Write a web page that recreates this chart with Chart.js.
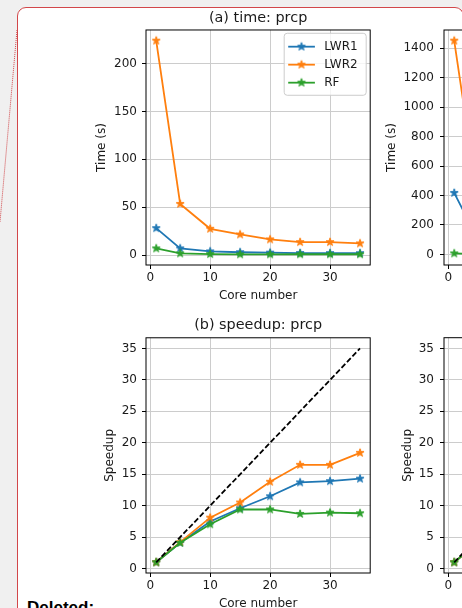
<!DOCTYPE html>
<html>
<head>
<meta charset="utf-8">
<script src="https://cdn.jsdelivr.net/npm/chart.js@4.4.1/dist/chart.umd.min.js"></script>
<style>
  html, body { margin: 0; width: 462px; height: 608px; overflow: hidden; background: #f0f0f0; }
  .frame { position: absolute; left: 17px; top: 7px; width: 447px; height: 700px; box-sizing: border-box;
           border: 1px solid #d2474a; border-radius: 9px; background: #fff; }
  .link { position: absolute; left: 0; top: 0; }
  .deleted { position: absolute; left: 27px; top: 599px; font: bold 17px "Liberation Sans", sans-serif; line-height: 1; color: #000; }
  canvas { position: absolute; }
</style>
</head>
<body>
<div class="frame"></div>
<svg class="link" width="30" height="240"><line x1="17" y1="30" x2="0" y2="222" stroke="#d2474a" stroke-width="1" stroke-dasharray="1 1"/></svg>
<div class="deleted">Deleted:</div>
<canvas id="timePrcp" width="286" height="305" style="left:90px;top:0"></canvas>
<canvas id="speedupPrcp" width="286" height="308" style="left:90px;top:305px"></canvas>
<canvas id="timeTmax" width="290" height="305" style="left:384px;top:0"></canvas>
<canvas id="speedupTmax" width="290" height="308" style="left:384px;top:305px"></canvas>
<script>
// 데이터
const cores = [1, 5, 10, 15, 20, 25, 30, 35];
const seriesNames = ['LWR1', 'LWR2', 'RF'];
const seriesColors = ['#1f77b4', '#ff7f0e', '#2ca02c'];

const timePrcpLWR1 = [28.1, 6.9, 3.75, 2.9, 2.45, 2.05, 2.0, 1.95];
const timePrcpLWR2 = [224, 53.4, 27.4, 21.5, 16.3, 13.5, 13.5, 12.1];
const timePrcpRF = [6.9, 1.7, 0.98, 0.73, 0.73, 0.79, 0.78, 0.78];

const speedupPrcpLWR1 = [1, 4.1, 7.5, 9.6, 11.5, 13.7, 13.9, 14.3];
const speedupPrcpLWR2 = [1, 4.2, 8.1, 10.5, 13.8, 16.5, 16.5, 18.4];
const speedupPrcpRF = [1, 4.1, 7.05, 9.4, 9.4, 8.7, 8.9, 8.8];

const timeTmaxLWR1 = [418, 100, 55, 43, 36, 31, 30, 29];
const timeTmaxLWR2 = [1452, 354, 180, 138, 105, 88, 87, 79];
const timeTmaxRF = [7, 1.7, 1.0, 0.75, 0.75, 0.8, 0.8, 0.8];

const speedupTmaxLWR1 = [1, 4.2, 7.6, 9.7, 11.6, 13.5, 13.9, 14.4];
const speedupTmaxLWR2 = [1, 4.1, 8.1, 10.5, 13.8, 16.5, 16.7, 18.4];
const speedupTmaxRF = [1, 4.1, 7.0, 9.3, 9.3, 8.8, 8.8, 8.7];

const idealCores = [1, 35];
const idealSpeedup = [1, 35];

const xTicks = [0, 10, 20, 30];
const timePrcpTicks = [0, 50, 100, 150, 200];
const timeTmaxTicks = [0, 200, 400, 600, 800, 1000, 1200, 1400];
const speedupTicks = [0, 5, 10, 15, 20, 25, 30, 35];

const FONT = 'DejaVu Sans';
const TEXT = '#1a1a1a';

// matplotlib '*' 마커
function starImage(color) {
    const c = document.createElement('canvas');
    c.width = c.height = 12;
    const ctx = c.getContext('2d');
    ctx.beginPath();
    for (let i = 0; i < 10; i++) {
        const r = i % 2 ? 1.65 : 4.2;
        const a = -Math.PI / 2 + i * Math.PI / 5;
        ctx.lineTo(6 + r * Math.cos(a), 6 + r * Math.sin(a));
    }
    ctx.closePath();
    ctx.fillStyle = color;
    ctx.fill();
    ctx.strokeStyle = color;
    ctx.lineWidth = 1;
    ctx.lineJoin = 'round';
    ctx.stroke();
    return c;
}
const stars = seriesColors.map(starImage);

// matplotlib 처럼 5% 여백
function padRange(arrays) {
    const all = arrays.flat();
    const lo = Math.min(...all), hi = Math.max(...all);
    const m = (hi - lo) * 0.05;
    return [lo - m, hi + m];
}

function seriesDatasets(values) {
    return values.map((vals, i) => ({
        label: seriesNames[i],
        data: cores.map((c, j) => ({ x: c, y: vals[j] })),
        borderColor: seriesColors[i],
        backgroundColor: seriesColors[i],
        borderWidth: 1.8,
        pointStyle: stars[i],
        pointRadius: 4,
        pointHoverRadius: 4,
        tension: 0,
        order: values.length - i
    }));
}

function idealDataset() {
    return {
        data: idealCores.map((c, j) => ({ x: c, y: idealSpeedup[j] })),
        borderColor: '#000',
        borderWidth: 1.8,
        borderDash: [5.5, 2.4],
        pointRadius: 0,
        tension: 0,
        order: 0
    };
}

const axesBox = {
    id: 'axesBox',
    afterDatasetsDraw(chart) {
        const { ctx, chartArea: a } = chart;
        ctx.save();
        ctx.strokeStyle = '#000';
        ctx.lineWidth = 1;
        ctx.strokeRect(a.left, a.top, a.right - a.left, a.bottom - a.top);
        ctx.restore();
    }
};

const starLegend = {
    id: 'starLegend',
    afterDraw(chart) {
        const { ctx, chartArea: a } = chart;
        const items = chart.data.datasets.filter(d => d.label);
        const w = 82, h = 62, rowH = 18;
        const x0 = a.right - 4 - w, y0 = a.top + 3.3;
        ctx.save();
        ctx.beginPath();
        ctx.roundRect(x0, y0, w, h, 3);
        ctx.fillStyle = 'rgba(255,255,255,0.8)';
        ctx.fill();
        ctx.strokeStyle = '#cccccc';
        ctx.lineWidth = 1;
        ctx.stroke();
        items.forEach((d, i) => {
            const y = y0 + 13.4 + i * rowH;
            ctx.beginPath();
            ctx.moveTo(x0 + 4, y);
            ctx.lineTo(x0 + 30.7, y);
            ctx.strokeStyle = d.borderColor;
            ctx.lineWidth = 1.8;
            ctx.stroke();
            ctx.drawImage(d.pointStyle, x0 + 17.3 - 6, y - 6);
            ctx.fillStyle = TEXT;
            ctx.font = '12px "' + FONT + '"';
            ctx.textBaseline = 'middle';
            ctx.fillText(d.label, x0 + 40, y);
        });
        ctx.restore();
    }
};

function makeChart(id, cfg) {
    const [ymin, ymax] = cfg.yRange;
    const options = {
        responsive: false,
        animation: false,
        devicePixelRatio: 1,
        layout: { padding: { left: 0, right: 4, top: cfg.padTop || 0, bottom: 0 } },
        plugins: {
            legend: { display: false },
            tooltip: { enabled: false },
            title: cfg.title ? {
                display: true, text: cfg.title, fullSize: false, color: TEXT,
                font: { family: FONT, size: 14.4, weight: 'normal' },
                padding: cfg.titlePad
            } : { display: false }
        },
        scales: {
            x: {
                type: 'linear', min: -0.7, max: 36.7,
                afterBuildTicks: s => { s.ticks = xTicks.map(v => ({ value: v })); },
                afterFit: s => { s.height = 40; },
                border: { display: false },
                grid: { color: '#cccccc', lineWidth: 1, tickColor: '#000', tickLength: 4, tickWidth: 1 },
                ticks: { color: TEXT, font: { family: FONT, size: 12 }, padding: 2, maxRotation: 0, autoSkip: false,
                         callback: v => String(v) },
                title: { display: true, text: 'Core number', color: TEXT, font: { family: FONT, size: 12 },
                         padding: { top: 0, bottom: 2 } }
            },
            y: {
                type: 'linear', min: ymin, max: ymax,
                afterBuildTicks: s => { s.ticks = cfg.yTicks.map(v => ({ value: v })); },
                afterFit: s => { s.width = cfg.yWidth; },
                border: { display: false },
                grid: { color: '#cccccc', lineWidth: 1, tickColor: '#000', tickLength: 4, tickWidth: 1 },
                ticks: { color: TEXT, font: { family: FONT, size: 12 }, padding: cfg.yTickPad, autoSkip: false,
                         callback: v => String(v) },
                title: { display: true, text: cfg.yTitle, color: TEXT, font: { family: FONT, size: 12 },
                         padding: { top: cfg.yTitlePad, bottom: 0 } }
            }
        }
    };
    return new Chart(document.getElementById(id), {
        type: 'line',
        data: { datasets: cfg.datasets },
        options,
        plugins: cfg.legend ? [axesBox, starLegend] : [axesBox]
    });
}

const timePrcp = [timePrcpLWR1, timePrcpLWR2, timePrcpRF];
const timeTmax = [timeTmaxLWR1, timeTmaxLWR2, timeTmaxRF];

makeChart('timePrcp', {
    title: '(a) time: prcp', titlePad: { top: 9.7, bottom: 3 },
    datasets: seriesDatasets(timePrcp), legend: true,
    yRange: padRange(timePrcp), yTicks: timePrcpTicks, yTitle: 'Time (s)',
    yWidth: 56, yTickPad: 5, yTitlePad: 4.5
});

makeChart('speedupPrcp', {
    title: '(b) speedup: prcp', titlePad: { top: 11.4, bottom: 4.1 },
    datasets: [...seriesDatasets([speedupPrcpLWR1, speedupPrcpLWR2, speedupPrcpRF]), idealDataset()],
    yRange: [-0.7, 36.7], yTicks: speedupTicks, yTitle: 'Speedup',
    yWidth: 56, yTickPad: 5, yTitlePad: 12.8
});

makeChart('timeTmax', {
    padTop: 30,
    datasets: seriesDatasets(timeTmax),
    yRange: padRange(timeTmax), yTicks: timeTmaxTicks, yTitle: 'Time (s)',
    yWidth: 60, yTickPad: 6, yTitlePad: 0.5
});

makeChart('speedupTmax', {
    padTop: 32.7,
    datasets: [...seriesDatasets([speedupTmaxLWR1, speedupTmaxLWR2, speedupTmaxRF]), idealDataset()],
    yRange: [-0.7, 36.7], yTicks: speedupTicks, yTitle: 'Speedup',
    yWidth: 60, yTickPad: 6, yTitlePad: 17.1
});
</script>
</body>
</html>
